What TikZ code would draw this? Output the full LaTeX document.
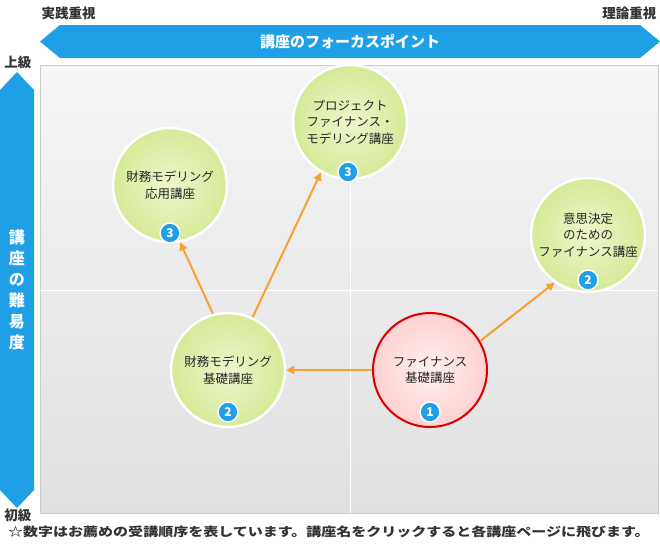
\documentclass[tikz,border=0pt]{standalone}
\usepackage{fontspec}
\setmainfont{Noto Sans CJK JP}
\usetikzlibrary{arrows.meta}
\definecolor{blu}{HTML}{1E9FE6}
\definecolor{org}{HTML}{F7A033}
\definecolor{grn}{HTML}{EEF6CC}
\definecolor{grnd}{HTML}{D6EA98}
\tikzset{
 course/.style={circle,minimum size=114pt,inner sep=0pt,draw=white,line width=2.5pt,
   inner color=grn,outer color=grnd,align=center,font=\fontsize{12.5}{16.5}\selectfont,text=black!85},
 red/.style={course,draw=red!85!black,line width=2pt,inner color=red!6,outer color=red!18},
 badge/.style={circle,fill=blu,draw=white,line width=1.5pt,minimum size=20pt,inner sep=0pt,text=white,font=\bfseries\fontsize{12}{12}\selectfont},
 arr/.style={draw=org,line width=2pt,-{Triangle[length=8pt,width=8pt]}},
 lbl/.style={font=\bfseries\fontsize{13.5}{14}\selectfont,text=black!80}
}
\begin{document}
\begin{tikzpicture}[x=1pt,y=-1pt]
\useasboundingbox (0,0) rectangle (660,550);
\fill[white] (0,0) rectangle (660,550);
\shade[top color=black!4,bottom color=black!12,draw=black!20] (40,65) rectangle (658,513);
\draw[white,line width=1pt] (350,65) -- (350,513) (40,290) -- (658,290);
\fill[blu] (40,41.5) -- (60,25) -- (640,25) -- (660,41.5) -- (640,58) -- (60,58) -- cycle;
\node[text=white,font=\bfseries\fontsize{15}{15}\selectfont] (ta) at (350,41.5) {講座のフォーカスポイント};
\node[lbl,anchor=west] (l1) at (38,13) {実践重視};
\node[lbl,anchor=east] (l2) at (660,13) {理論重視};
\fill[blu] (17,72) -- (34,90) -- (34,490) -- (17,508) -- (0,490) -- (0,90) -- cycle;
\node[text=white,font=\bfseries\fontsize{16}{21}\selectfont,align=center] (la) at (17,290) {講\\座\\の\\難\\易\\度};
\node[lbl] (u) at (18,62) {上級};
\node[lbl] (d) at (18,515) {初級};
\node[red] (c1) at (430,370) {ファイナンス\\基礎講座};
\node[course] (c2) at (228,370) {財務モデリング\\基礎講座};
\node[course] (c3) at (170,185) {財務モデリング\\応用講座};
\node[course] (c4) at (350,122) {プロジェクト\\ファイナンス・\\モデリング講座};
\node[course] (c5) at (588,235) {意思決定\\のための\\ファイナンス講座};
\node[badge] (b1) at (430,412) {1};
\node[badge] (b2) at (228,412) {2};
\node[badge] (b3) at (170,233) {3};
\node[badge] (b4) at (348,172) {3};
\node[badge] (b5) at (588,280) {2};
\draw[arr] (c1.west) -- (c2.east);
\draw[arr] (c2.65) -- (c4.240);
\draw[arr] (c2.105) -- (c3.-80);
\draw[arr] (c1.30) -- (c5.235);
\node[font=\bfseries\fontsize{12.3}{12}\selectfont,text=black!80,anchor=west,inner sep=0pt] (note) at (8,532) {\scalebox{1.22}[1]{☆数字はお薦めの受講順序を表しています。講座名をクリックすると各講座ページに飛びます。}};
\end{tikzpicture}
\end{document}
